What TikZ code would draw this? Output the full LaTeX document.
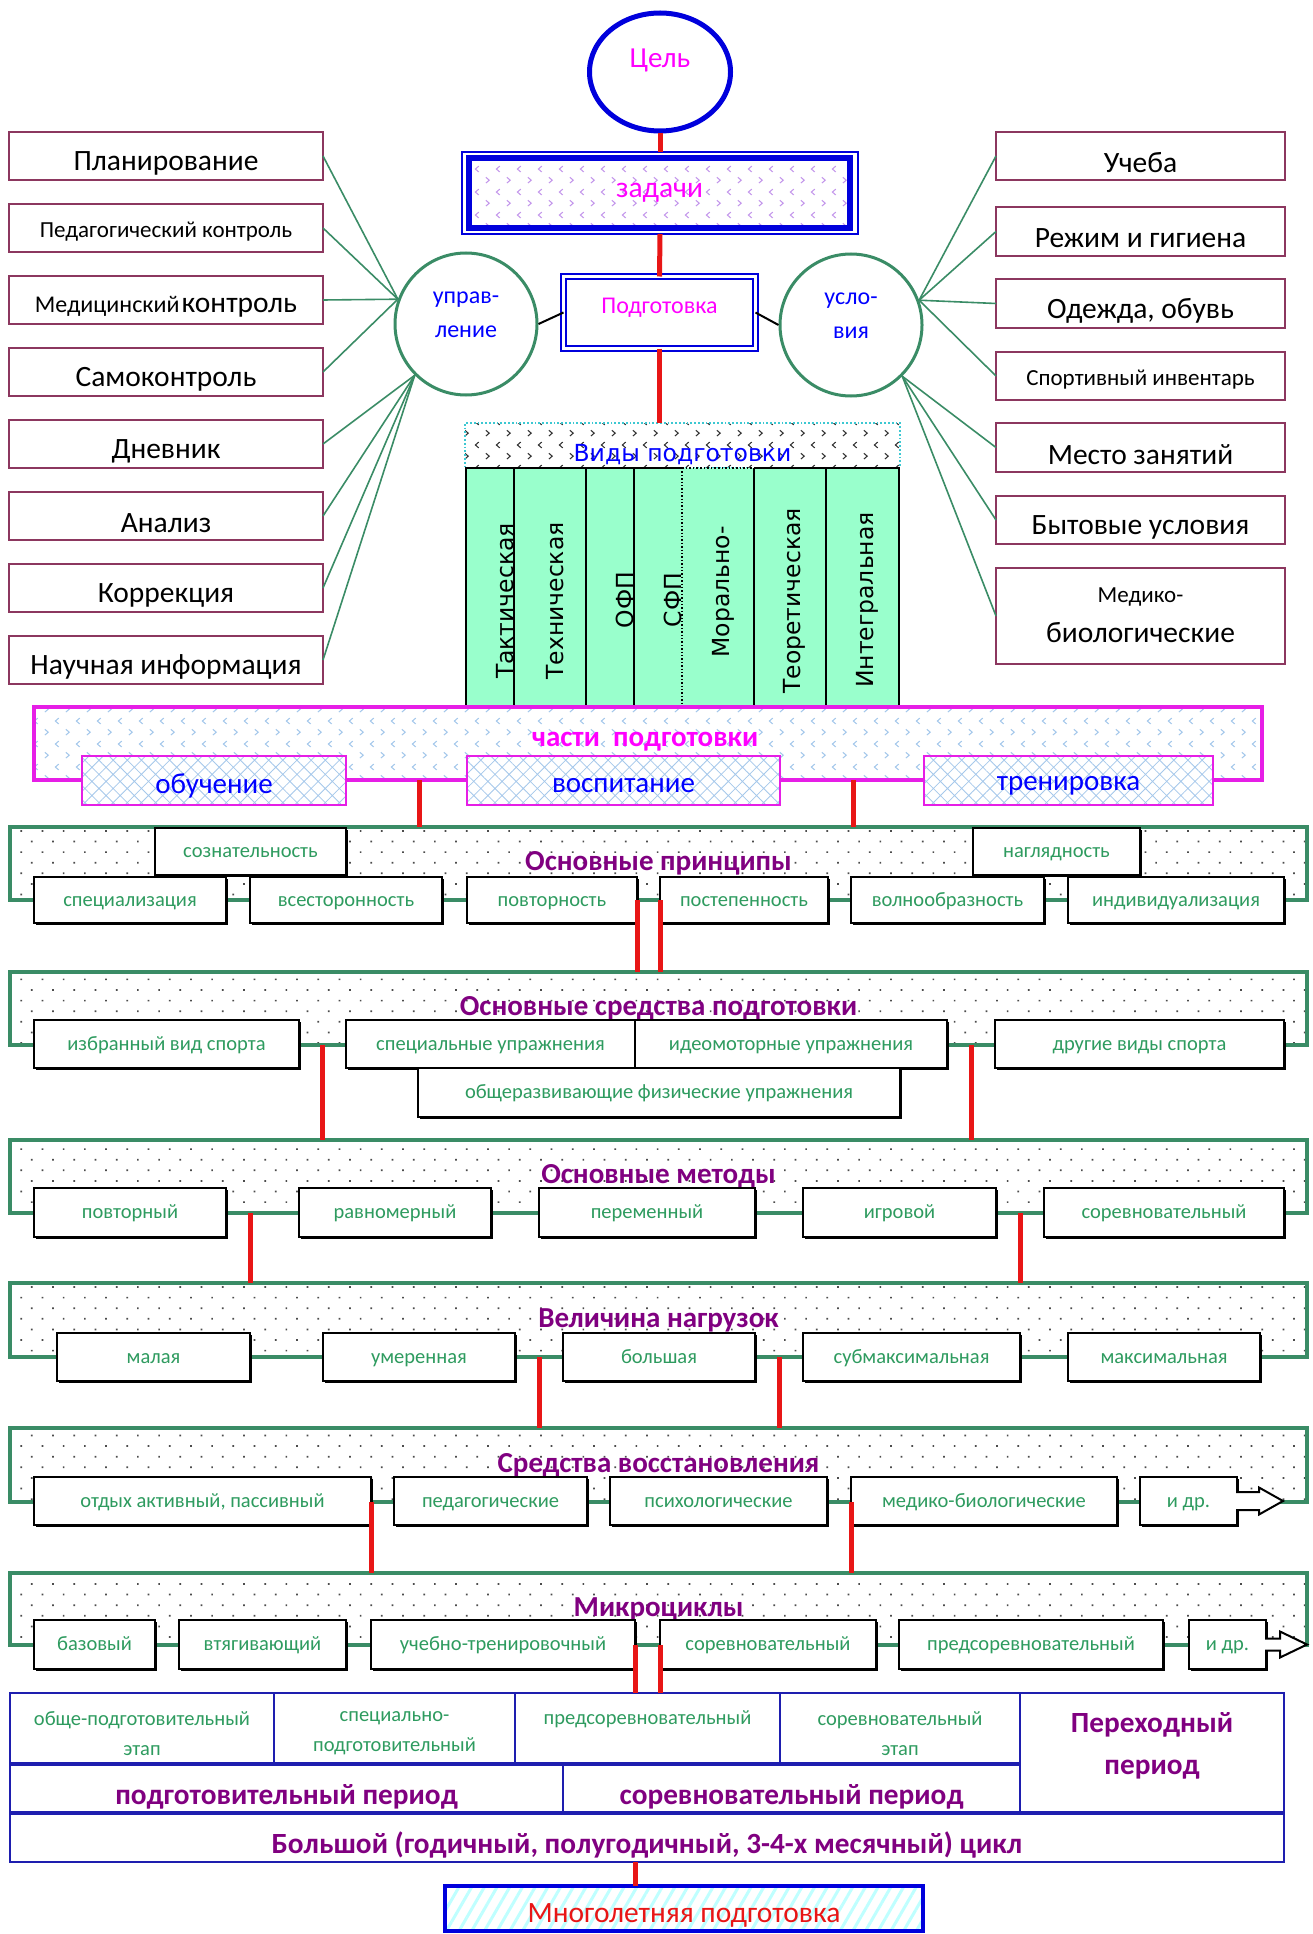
\documentclass[tikz,border=0pt]{standalone}
\usepackage{fontspec}
\setmainfont{Carlito}
\newfontfamily\dvs{DejaVu Sans}
\usetikzlibrary{patterns.meta,calc,shadows,shapes.geometric}
\definecolor{cred}{RGB}{232,22,22}
\definecolor{cblue}{RGB}{0,0,220}
\definecolor{tblue}{RGB}{0,0,255}
\definecolor{cmag}{RGB}{255,0,255}
\definecolor{cpm}{RGB}{230,30,230}
\definecolor{cgreen}{RGB}{58,140,102}
\definecolor{tgreen}{RGB}{46,155,95}
\definecolor{cpurple}{RGB}{128,0,128}
\definecolor{cmaroon}{RGB}{140,55,95}
\definecolor{cmint}{RGB}{153,255,204}
\definecolor{ccyan}{RGB}{60,200,210}
\definecolor{clav}{RGB}{195,150,235}
\definecolor{clb}{RGB}{165,200,235}
\definecolor{ctab}{RGB}{30,30,175}
\newcommand\fs[2]{\fontsize{#1}{#2}\selectfont}
\tikzdeclarepattern{
  name=chev,
  type=uncolored,
  bounding box={(0pt,0pt) and (21pt,23pt)},
  tile size={(21pt,23pt)},
  code={
    \draw[line width=1.1pt] (3pt,3pt) -- (6.5pt,6pt) -- (3pt,9pt);
    \draw[line width=1.1pt] (17.5pt,14.5pt) -- (14pt,17.5pt) -- (17.5pt,20.5pt);
  }
}
\newcommand\bx[6][]{\node[#1,minimum width={(#4)-(#2)},minimum height={(#5)-(#3)},inner sep=0pt,outer sep=0pt] (#6) at ({((#2)+(#4))/2},{((#3)+(#5))/2})}
\tikzset{
  redl/.style={draw=cred,line width=5pt},
  gline/.style={draw=cgreen,line width=1.6pt},
  sidebox/.style={draw=cmaroon,line width=2.5pt,fill=white},
  sbig/.style={font=\fs{29.5}{35}},
  ssmall/.style={font=\fs{23}{27}},
  panel/.style={draw=cgreen,line width=4.5pt,preaction={fill=white},pattern={Dots[distance=15pt,angle=45,radius=1.2pt]},pattern color=black!70,font=\bfseries\fs{29}{34},text=cpurple},
  item/.style={draw=black,line width=2pt,fill=white,font=\fs{20.5}{24},text=tgreen,text height=16pt,text depth=4pt,drop shadow={shadow xshift=1.5pt,shadow yshift=-1.5pt,fill=black,opacity=1}},
  subbox/.style={draw=cpm,line width=2pt,preaction={fill=white},pattern={Hatch[distance=10pt,angle=45,line width=0.8pt]},pattern color=clb},
  subtxt/.style={text=tblue,font=\fs{29}{34}},
  coltxt/.style={rotate=90,font=\dvs\fs{23.5}{27},inner sep=0pt},
  colbox/.style={fill=cmint},
  tcell/.style={draw=ctab,line width=2.2pt},
  ttxt/.style={text=tgreen,font=\fs{20.5}{30},align=center},
  tbold/.style={text=cpurple,font=\bfseries\fs{29.3}{42},align=center},
  bline/.style={draw=black,line width=2pt},
  arrowbox/.style={draw=black,line width=2pt,fill=white},
}
\begin{document}
\begin{tikzpicture}[x=1pt,y=-1pt]
\useasboundingbox (0,0) rectangle (1313,1934);
% ---------- top ----------
\node[ellipse,draw=cblue,line width=5pt,minimum width=141pt,minimum height=118pt,inner sep=0pt] (cel) at (660,72) {};
\node[text=cmag,font=\fs{29}{34}] at ([yshift=12pt]cel.center) {Цель};
\bx[draw=cblue,line width=1.5pt]{462}{152}{858}{234}{zadO} {};
\bx[draw=cblue,line width=6pt,pattern=chev,pattern color=clav,text=cmag,font=\fs{29.5}{34}]{469}{158}{850}{228}{zad} {задачи};
\bx[draw=cblue,double,double distance=3pt,line width=2pt]{563.5}{276.5}{755.5}{348.5}{podg} {};
\node[text=cmag,font=\fs{24}{28}] at ([yshift=5pt]podg.center) {Подготовка};
\node[circle,draw=cgreen,line width=3pt,minimum size=142pt,inner sep=0pt] (upr) at (466,324) {};
\node[text=tblue,font=\fs{24}{34},align=center] at ([yshift=9pt]upr.center) {управ-\\ление};
\node[circle,draw=cgreen,line width=3pt,minimum size=142pt,inner sep=0pt] (usl) at (851,325) {};
\node[text=tblue,font=\fs{24}{34},align=center] at ([yshift=9pt]usl.center) {усло-\\вия};
\draw[bline] (upr.east) -- (podg.west);
\draw[bline] (podg.east) -- (usl.west);
% ---------- left boxes ----------
\bx[sidebox]{9}{132}{323}{180}{L1} {};
\node[sbig] at ([yshift=-7pt]L1.center) {Планирование};
\bx[sidebox]{9}{204}{323}{252}{L2} {};
\node[ssmall] at ([yshift=-4pt]L2.center) {Педагогический контроль};
\bx[sidebox]{9}{276}{323}{324}{L3} {};
\node at ([yshift=-7pt]L3.center) {{\fs{24}{28}Медицинский} {\fs{29.5}{35}контроль}};
\bx[sidebox]{9}{348}{323}{396}{L4} {};
\node[sbig] at ([yshift=-7pt]L4.center) {Самоконтроль};
\bx[sidebox]{9}{420}{323}{468}{L5} {};
\node[sbig] at ([yshift=-7pt]L5.center) {Дневник};
\bx[sidebox]{9}{492}{323}{540}{L6} {};
\node[sbig] at ([yshift=-7pt]L6.center) {Анализ};
\bx[sidebox]{9}{564}{323}{612}{L7} {};
\node[sbig] at ([yshift=-7pt]L7.center) {Коррекция};
\bx[sidebox]{9}{636}{323}{684}{L8} {};
\node[sbig] at ([yshift=-7pt]L8.center) {Научная информация};
% ---------- right boxes ----------
\bx[sidebox]{996}{132}{1285}{180}{R1} {};
\node[sbig] at ([yshift=-7pt]R1.center) {Учеба};
\bx[sidebox]{996}{207}{1285}{256}{R2} {};
\node[sbig] at ([yshift=-7pt]R2.center) {Режим и гигиена};
\bx[sidebox]{996}{279}{1285}{328}{R3} {};
\node[sbig] at ([yshift=-7pt]R3.center) {Одежда, обувь};
\bx[sidebox]{996}{352}{1285}{400}{R4} {};
\node[ssmall] at ([yshift=-4pt]R4.center) {Спортивный инвентарь};
\bx[sidebox]{996}{423}{1285}{472}{R5} {};
\node[sbig] at ([yshift=-7pt]R5.center) {Место занятий};
\bx[sidebox]{996}{496}{1285}{544}{R6} {};
\node[sbig] at ([yshift=-7pt]R6.center) {Бытовые условия};
\bx[sidebox]{996}{568}{1285}{664}{R7} {};
\node[ssmall] at ([yshift=19pt]R7.center) {Медико-};
\node[sbig] at ([yshift=-17pt]R7.center) {биологические};
\foreach \i in {1,...,4} \draw[gline] (L\i.east) -- (upr.160);
\foreach \i in {5,...,8} \draw[gline] (L\i.east) -- (upr.225);
\foreach \i in {1,...,4} \draw[gline] (R\i.west) -- (usl.20);
\foreach \i in {5,6,7} \draw[gline] (R\i.west) -- (usl.315);
% ---------- types of training ----------
\bx[draw=ccyan,dotted,line width=1.8pt,pattern=chev,pattern color=black!80]{465}{423}{900}{468}{vidy} {};
\bx[colbox]{466}{468}{514}{707}{c1} {};
\bx[colbox]{514}{468}{586}{707}{c2} {};
\bx[colbox]{586}{468}{634}{707}{c3} {};
\bx[colbox]{634}{468}{682}{707}{c4} {};
\bx[colbox]{682}{468}{754}{707}{c5} {};
\bx[colbox]{754}{468}{826}{707}{c6} {};
\bx[colbox]{826}{468}{899}{707}{c7} {};
\draw[bline] (c4.north east) -- (c1.north west) -- (c1.south west) -- (c7.south east) -- (c7.north east) -- (c6.north west);
\draw[line width=1.6pt,dotted] (c5.north west) -- (c5.north east);
\foreach \c in {c1,c2,c3,c5,c6} \draw[bline] (\c.north east) -- (\c.south east);
\draw[line width=1.4pt,dotted] (c4.north east) -- (c4.south east);
\node[coltxt] at (505,601) {Тактическая};
\node[coltxt] at (555,601) {Техническая};
\node[coltxt] at (625,600) {ОФП};
\node[coltxt] at (673,600) {СФП};
\node[coltxt] at (723,592) {Морально-};
\node[coltxt] at (794,601) {Теоретическая};
\node[coltxt] at (867,600) {Интегральная};
\node[text=tblue,font=\dvs\fs{23.5}{27}] at ([yshift=-9pt]vidy.center) {Виды подготовки};
% ---------- parts ----------
\bx[draw=cpm,line width=3.5pt,pattern=chev,pattern color=clb]{34}{707}{1262}{780}{chasti} {};
\node[text=cmag,font=\bfseries\fs{29}{34}] at (645,742) {части\ \ подготовки};
\bx[subbox]{82}{756}{346}{805}{obuch} {};
\node[subtxt] at ([yshift=-5pt]obuch.center) {обучение};
\bx[subbox]{467}{756}{780}{805}{vosp} {};
\node[subtxt] at ([yshift=-5pt]vosp.center) {воспитание};
\bx[subbox]{924}{756}{1213}{805}{tren} {};
\node[subtxt] at ([yshift=-5pt]tren.center) {тренировка};
% ---------- principles ----------
\bx[panel]{10}{827}{1307}{900}{princ} {Основные принципы};
\bx[item]{155}{828}{346}{875}{p1} {сознательность};
\bx[item]{973}{828}{1140}{875}{p2} {наглядность};
\bx[item]{34}{877}{226}{923}{p3} {специализация};
\bx[item]{250}{877}{442}{923}{p4} {всесторонность};
\bx[item]{467}{877}{637}{923}{p5} {повторность};
\bx[item]{660}{877}{828}{923}{p6} {постепенность};
\bx[item]{851}{877}{1044}{923}{p7} {волнообразность};
\bx[item]{1068}{877}{1284}{923}{p8} {индивидуализация};
% ---------- means ----------
\bx[panel]{10}{972}{1307}{1045}{sred} {Основные средства подготовки};
\bx[item]{34}{1020}{299}{1068}{s1} {избранный вид спорта};
\bx[item]{346}{1020}{635}{1068}{s2} {специальные упражнения};
\bx[item]{635}{1020}{947}{1068}{s3} {идеомоторные упражнения};
\bx[item]{995}{1020}{1284}{1068}{s4} {другие виды спорта};
\bx[item]{418}{1068}{900}{1117}{s5} {общеразвивающие физические упражнения};
% ---------- methods ----------
\bx[panel]{10}{1140}{1307}{1213}{met} {Основные методы};
\bx[item]{34}{1188}{226}{1237}{me1} {повторный};
\bx[item]{299}{1188}{491}{1237}{me2} {равномерный};
\bx[item]{539}{1188}{755}{1237}{me3} {переменный};
\bx[item]{803}{1188}{996}{1237}{me4} {игровой};
\bx[item]{1044}{1188}{1284}{1237}{me5} {соревновательный};
% ---------- load ----------
\bx[panel]{10}{1283}{1307}{1357}{vel} {Величина нагрузок};
\bx[item]{57}{1333}{250}{1381}{v1} {малая};
\bx[item]{323}{1333}{515}{1381}{v2} {умеренная};
\bx[item]{563}{1333}{755}{1381}{v3} {большая};
\bx[item]{803}{1333}{1020}{1381}{v4} {субмаксимальная};
\bx[item]{1068}{1333}{1260}{1381}{v5} {максимальная};
% ---------- recovery ----------
\bx[panel]{10}{1428}{1307}{1502}{vos} {Средства восстановления};
\bx[item]{34}{1477}{371}{1525}{r1} {отдых активный, пассивный};
\bx[item]{394}{1477}{587}{1525}{r2} {педагогические};
\bx[item]{610}{1477}{827}{1525}{r3} {психологические};
\bx[item]{851}{1477}{1117}{1525}{r4} {медико-биологические};
\bx[item]{1140}{1477}{1237}{1525}{r5} {и др.};
\draw[arrowbox] ($(r5.east)+(-1,-9)$) -- ++(23,0) -- ++(0,-4.5) -- ++(24,13.5) -- ++(-24,13.5) -- ++(0,-4.5) -- ++(-23,0);
% ---------- microcycles ----------
\bx[panel]{10}{1573}{1307}{1645}{mic} {Микроциклы};
\bx[item]{34}{1620}{155}{1669}{mc1} {базовый};
\bx[item]{179}{1620}{346}{1669}{mc2} {втягивающий};
\bx[item]{371}{1620}{635}{1669}{mc3} {учебно-тренировочный};
\bx[item]{660}{1620}{876}{1669}{mc4} {соревновательный};
\bx[item]{899}{1620}{1163}{1669}{mc5} {предсоревновательный};
\bx[item]{1189}{1620}{1266}{1669}{mc6} {и др.};
\draw[arrowbox] ($(mc6.east)+(-1,-6)$) -- ++(15,0) -- ++(0,-7) -- ++(27,13) -- ++(-27,13) -- ++(0,-7) -- ++(-15,0);
% ---------- table ----------
\bx[tcell]{10}{1693}{274}{1764}{t1} {};
\bx[tcell]{274}{1693}{515}{1764}{t2} {};
\bx[tcell]{515}{1693}{780}{1764}{t3} {};
\bx[tcell]{780}{1693}{1020}{1764}{t4} {};
\bx[tcell]{1020}{1693}{1284}{1813}{t5} {};
\bx[tcell]{10}{1764}{563}{1813}{t6} {};
\bx[tcell]{563}{1764}{1020}{1813}{t7} {};
\bx[tcell]{10}{1813}{1284}{1862}{t8} {};
\draw[draw=ctab,line width=4pt] (t6.north west) -- (t7.north east);
\draw[draw=ctab,line width=4pt] (t8.north west) -- (t8.north east);
\node[ttxt] at ([yshift=-5pt]t1.center) {обще-подготовительный\\этап};
\node[ttxt] at ([yshift=-5pt]t2.center) {специально-\\подготовительный};
\node[ttxt] at ([yshift=9.5pt]t3.center) {предсоревновательный};
\node[ttxt] at ([yshift=-5pt]t4.center) {соревновательный\\этап};
\node[tbold] at ([yshift=7pt]t5.center) {Переходный\\период};
\node[tbold] at ([yshift=-8pt]t6.center) {подготовительный период};
\node[tbold] at ([yshift=-8pt]t7.center) {соревновательный период};
\node[tbold] at ([yshift=-7pt]t8.center) {Большой (годичный, полугодичный, 3-4-х месячный) цикл};
% ---------- long-term ----------
\bx[draw=cblue,line width=4pt,preaction={fill=white},pattern={Lines[angle=60,distance=11pt,line width=3pt]},pattern color=cyan!25]{445}{1886}{923}{1931}{mnog} {};
\node[text=cred,font=\fs{29.5}{34}] at ([yshift=-7pt]mnog.center) {Многолетняя подготовка};
% ---------- red connectors ----------
\coordinate (xA) at (419,0);
\coordinate (xB) at (853,0);
\coordinate (xC) at (250,0);
\coordinate (m1) at ($(s1.east)!0.5!(s2.west)$);
\coordinate (m2) at ($(s3.east)!0.5!(s4.west)$);
\coordinate (m3) at ($(me4.east)!0.5!(me5.west)$);
\coordinate (m4) at ($(v2.east)!0.5!(v3.west)$);
\coordinate (m5) at ($(v3.east)!0.5!(v4.west)$);
\draw[redl] (cel.south) -- (zadO.north);
\draw[redl] (zadO.south) -- (podg.north);
\draw[redl] (podg.south) -- (podg.south |- vidy.north);
\draw[redl] (chasti.south -| xA) -- (princ.north -| xA);
\draw[redl] (chasti.south -| xB) -- (princ.north -| xB);
\draw[redl] (princ.south -| p5.east) -- (sred.north -| p5.east);
\draw[redl] (princ.south -| p6.west) -- (sred.north -| p6.west);
\draw[redl] (sred.south -| m1) -- (met.north -| m1);
\draw[redl] (sred.south -| m2) -- (met.north -| m2);
\draw[redl] (met.south -| xC) -- (vel.north -| xC);
\draw[redl] (met.south -| m3) -- (vel.north -| m3);
\draw[redl] (vel.south -| m4) -- (vos.north -| m4);
\draw[redl] (vel.south -| m5) -- (vos.north -| m5);
\draw[redl] (vos.south -| r1.east) -- (mic.north -| r1.east);
\draw[redl] (vos.south -| r4.west) -- (mic.north -| r4.west);
\draw[redl] (mic.south -| mc3.east) -- (t3.north -| mc3.east);
\draw[redl] (mic.south -| mc4.west) -- (t3.north -| mc4.west);
\draw[redl] (t8.south -| mc3.east) -- (mnog.north -| mc3.east);
\end{tikzpicture}
\end{document}
